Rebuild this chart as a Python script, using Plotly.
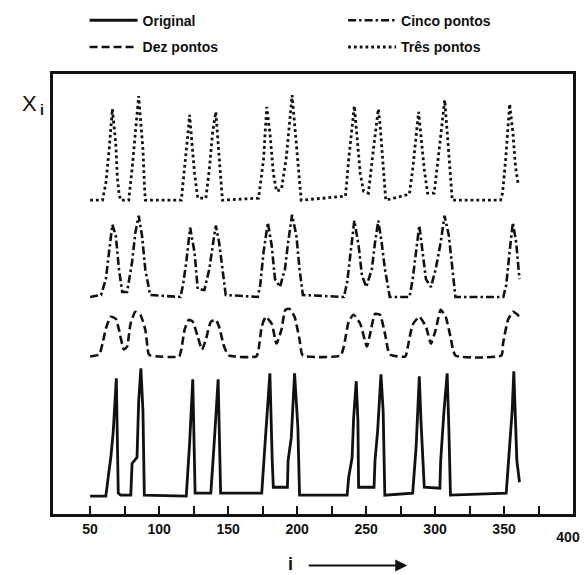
import plotly.graph_objects as go

# ---------------- data ----------------
# Original signal
orig_i = [50, 61.4, 63.1, 65.0, 66.8, 69.0, 70.4, 72.1, 79.5, 80.4, 84.0, 85.2, 86.8, 88.3, 89.3,
          119.7, 122.1, 124.4, 126.1, 137.5, 139.9, 141.1, 142.8, 144.6,
          174.4, 176.8, 178.0, 180.3, 182.0, 182.8, 193.0, 193.5, 195.8, 198.2, 200.6, 201.8,
          236.3, 237.4, 239.9, 241.0, 242.9, 244.1, 244.6, 255.8, 256.5, 258.4, 260.8, 262.4, 263.6,
          283.8, 286.3, 288.6, 289.8, 291.0, 292.2, 303.5, 304.1, 306.5, 308.8, 310.0, 311.2,
          351.6, 354.0, 355.9, 357.1, 358.3, 359.3, 361.2]
orig_x = [0, 0, 19, 39, 66, 119, 3, 1, 1, 33, 39, 96, 129, 86, 1,
          0, 53, 118, 3, 3, 53, 76, 118, 3,
          3, 53, 76, 124, 36, 9, 9, 36, 59, 124, 69, 1,
          1, 19, 39, 79, 116, 76, 9, 9, 36, 66, 123, 86, 1,
          3, 50, 121, 76, 36, 9, 8, 36, 86, 124, 69, 1,
          3, 50, 86, 126, 86, 36, 14]

# Ten-point smoothing
dez_i = [50, 56.6, 59.0, 61.4, 65.0, 68.6, 70.9, 74.5, 76.8, 79.3, 82.8, 86.4, 90.0, 92.3, 93.5,
         114.5, 116.1, 118.5, 121.6, 124.4, 128.0, 131.1, 133.9, 137.5, 141.1, 143.5, 147.1, 150.6,
         170.5, 172.1, 174.4, 177.3, 181.6, 185.1, 188.7, 191.5, 194.6, 198.2, 201.8, 204.2,
         231.5, 233.9, 237.4, 241.0, 245.8, 250.6, 253.0, 256.5, 260.1, 263.7, 267.2,
         278.5, 280.3, 283.8, 288.6, 293.4, 297.0, 300.5, 304.1, 307.7, 311.2, 314.8,
         348.1, 349.3, 352.9, 356.4, 360.0, 361.2]
dez_x = [0, 2, 13, 28, 40, 38, 27, 7, 10, 33, 45, 42, 27, 3, 1,
         0, 7, 27, 37, 35, 20, 7, 17, 35, 37, 30, 10, 1,
         0, 7, 30, 40, 33, 13, 27, 47, 48, 40, 17, 1,
         1, 10, 35, 42, 33, 10, 23, 43, 42, 23, 2,
         0, 10, 32, 40, 30, 13, 27, 47, 40, 20, 1,
         1, 13, 37, 45, 42, 37]

# Five-point smoothing
cinco_i = [50, 57.9, 61.4, 63.8, 66.1, 68.6, 70.9, 73.3, 76.8, 80.4, 82.8, 85.2, 87.6, 90.0, 93.5,
           115.5, 117.3, 119.7, 122.5, 125.7, 128.0, 132.8, 136.4, 139.2, 141.1, 143.5, 145.9, 148.3,
           171.5, 173.3, 175.7, 178.8, 181.6, 184.0, 187.6, 191.2, 193.5, 196.4, 199.5, 201.8, 204.2,
           234.0, 236.3, 238.6, 241.5, 244.6, 247.0, 250.1, 254.2, 256.5, 258.9, 261.3, 263.7, 267.2,
           281.5, 283.8, 286.3, 288.6, 291.0, 293.4, 297.0, 300.5, 304.1, 306.9, 310.0, 312.4, 314.8,
           349.5, 351.6, 354.0, 356.4, 358.8, 361.2]
cinco_x = [0, 2, 18, 45, 73, 62, 28, 5, 5, 35, 65, 82, 62, 28, 2,
           0, 12, 35, 70, 45, 8, 7, 28, 55, 72, 55, 28, 2,
           0, 12, 45, 75, 52, 18, 10, 28, 55, 83, 62, 28, 2,
           0, 15, 45, 77, 52, 22, 10, 28, 55, 77, 55, 28, 0,
           0, 18, 48, 72, 45, 18, 10, 28, 55, 82, 62, 28, 0,
           0, 12, 45, 75, 55, 18]

# Three-point smoothing
tres_i = [50, 59.0, 61.4, 63.8, 66.1, 68.6, 69.7, 70.9, 72.1, 76.8, 78.0, 80.4, 82.8, 85.2, 86.4, 88.3, 89.3, 90.0,
          116.1, 118.5, 120.9, 122.1, 123.3, 125.7, 128.0, 133.9, 136.4, 138.7, 141.1, 142.3, 144.6, 145.9,
          172.1, 175.7, 178.0, 180.4, 182.8, 185.1, 188.7, 192.3, 196.4, 198.2, 200.6, 203.0,
          235.1, 237.4, 241.5, 243.4, 245.8, 248.2, 251.7, 255.3, 258.9, 260.1, 262.4, 264.3,
          281.4, 283.8, 288.1, 289.8, 292.2, 294.6, 299.4, 303.0, 307.0, 308.9, 311.3, 312.5,
          347.5, 348.9, 351.2, 354.1, 356.5, 358.3, 360.2]
tres_x = [0, 0, 17, 51, 92, 57, 24, 7, 0, 0, 0, 31, 67, 105, 84, 51, 17, 0,
          0, 31, 67, 86, 67, 27, 2, 2, 31, 67, 89, 67, 31, 0,
          2, 41, 94, 67, 27, 9, 11, 44, 106, 77, 34, 0,
          4, 41, 95, 67, 27, 9, 7, 51, 92, 77, 34, 0,
          6, 31, 89, 64, 31, 7, 7, 51, 101, 67, 27, 0,
          0, 7, 41, 97, 67, 34, 17]

tick_values = [50, 75, 100, 125, 150, 175, 200, 225, 250, 275, 300, 325, 350, 375]
tick_labels = ["50", "", "100", "", "150", "", "200", "", "250", "", "300", "", "350", ""]
end_label = "400"

# ---------------- layout helpers (positions / styles) ----------------
OFFSETS = {"orig": 18, "dez": 159, "cinco": 219, "tres": 316.7}
FONT = "Liberation Sans, Arial, sans-serif"
BLACK = "#111111"
PLOT_L, PLOT_B, PLOT_W, PLOT_H = 53, 514, 527, 444


def px_x(p):
    return (p - PLOT_L) / PLOT_W


def px_y(p):
    return (PLOT_B - p) / PLOT_H


def shifted(vals, off):
    return [v + off for v in vals]


fig = go.Figure()
fig.add_trace(go.Scatter(x=orig_i, y=shifted(orig_x, OFFSETS["orig"]), mode="lines",
                         name="Original", legend="legend",
                         line=dict(color=BLACK, width=2.8)))
fig.add_trace(go.Scatter(x=dez_i, y=shifted(dez_x, OFFSETS["dez"]), mode="lines",
                         name="Dez pontos", legend="legend2",
                         line=dict(color=BLACK, width=2.6, dash="8px,4px",
                                   shape="spline", smoothing=0.5)))
fig.add_trace(go.Scatter(x=cinco_i, y=shifted(cinco_x, OFFSETS["cinco"]), mode="lines",
                         name="Cinco pontos", legend="legend3",
                         line=dict(color=BLACK, width=2.6, dash="8px,3px,2.5px,3px")))
fig.add_trace(go.Scatter(x=tres_i, y=shifted(tres_x, OFFSETS["tres"]), mode="lines",
                         name="Três pontos", legend="legend4",
                         line=dict(color=BLACK, width=2.8, dash="2.8px,3px")))
# invisible trace to carry the secondary axis with the "400" label
fig.add_trace(go.Scatter(x=[400], y=[0], xaxis="x2", mode="markers",
                         marker=dict(opacity=0), showlegend=False, hoverinfo="skip"))

legend_style = dict(orientation="h", xanchor="left", yanchor="top",
                    font=dict(family=FONT, size=14, color=BLACK, weight="bold"),
                    bgcolor="rgba(0,0,0,0)", itemwidth=48)

tickfont = dict(family=FONT, size=14, color=BLACK, weight="bold")

fig.update_layout(
    width=585, height=575,
    margin=dict(l=53, r=5, t=70, b=61),
    paper_bgcolor="white", plot_bgcolor="white",
    showlegend=True,
    legend=dict(x=px_x(85), y=px_y(0), **legend_style),
    legend2=dict(x=px_x(85), y=px_y(27), **legend_style),
    legend3=dict(x=px_x(347), y=px_y(0), **legend_style),
    legend4=dict(x=px_x(347), y=px_y(27), **legend_style),
    xaxis=dict(range=[23.1, 400], tickmode="array", tickvals=tick_values, ticktext=tick_labels,
               ticks="inside", ticklen=8, tickwidth=1.6, tickcolor=BLACK,
               ticklabelstandoff=0,
               showline=True, linewidth=2.5, linecolor=BLACK, mirror=True,
               showgrid=False, zeroline=False, tickfont=tickfont),
    xaxis2=dict(range=[23.1, 400], overlaying="x", side="bottom", anchor="y",
                tickmode="array", tickvals=[400], ticktext=[end_label], ticks="",
                ticklabelshift=-5, ticklabelstandoff=13,
                showline=False, showgrid=False, zeroline=False, tickfont=tickfont),
    yaxis=dict(range=[0, 444], showticklabels=False, ticks="", showgrid=False, zeroline=False,
               showline=True, linewidth=2.5, linecolor=BLACK, mirror=True),
    annotations=[
        dict(text="X", xref="paper", yref="paper", x=px_x(29), y=px_y(100),
             xanchor="center", yanchor="middle", showarrow=False,
             font=dict(family=FONT, size=22, color=BLACK)),
        dict(text="<b>i</b>", xref="paper", yref="paper", x=px_x(42), y=px_y(106),
             xanchor="center", yanchor="middle", showarrow=False,
             font=dict(family=FONT, size=14, color=BLACK)),
        dict(text="<b>i</b>", xref="paper", yref="paper", x=px_x(294), y=px_y(564),
             xanchor="center", yanchor="middle", showarrow=False,
             font=dict(family=FONT, size=18, color=BLACK)),
        dict(text="", xref="paper", yref="paper", x=px_x(412), y=px_y(566),
             ax=-100, ay=0, showarrow=True, arrowhead=2, arrowsize=1.2, arrowwidth=2,
             arrowcolor=BLACK),
    ],
)

fig.write_html("out.html")
